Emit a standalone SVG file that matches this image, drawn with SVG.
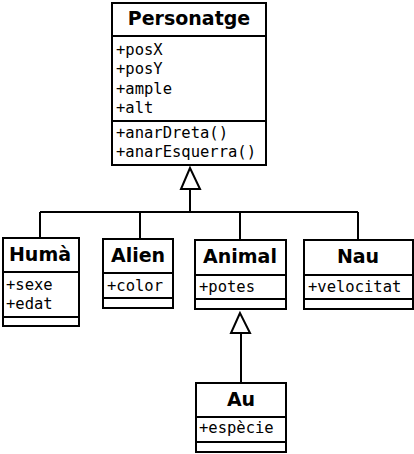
<svg xmlns="http://www.w3.org/2000/svg" width="414" height="454" viewBox="0 0 414 454">
<style>
.box{fill:#fff;stroke:#000;stroke-width:2}
.div{stroke:#000;stroke-width:2}
.h{font-family:"DejaVu Sans",sans-serif;font-weight:bold;font-size:19px;text-anchor:middle;fill:#000}
.a{font-family:"DejaVu Sans Mono",monospace;font-size:15.5px;fill:#000}
.c{fill:none;stroke:#000;stroke-width:2}
.tri{fill:#fff;stroke:#000;stroke-width:2}
</style>
<rect width="414" height="454" fill="#fff"/>
<g id="connectors">
<path class="c" d="M190,189 V212 M40,212 H358 M40,212 V238 M140,212 V239 M240,212 V240 M358,212 V240"/>
<polygon class="tri" points="190,168 181,189 200,189"/>
<path class="c" d="M241,333 V383"/>
<polygon class="tri" points="240,313 231,333 250,333"/>
</g>
<g id="Personatge">
<rect class="box" x="112" y="3" width="154" height="162"/>
<line class="div" x1="112" y1="36" x2="266" y2="36"/>
<line class="div" x1="112" y1="121" x2="266" y2="121"/>
<text class="h" x="189" y="25">Personatge</text>
<text class="a" x="116" y="55">+posX</text>
<text class="a" x="116" y="74">+posY</text>
<text class="a" x="116" y="94">+ample</text>
<text class="a" x="116" y="113">+alt</text>
<text class="a" x="116" y="138">+anarDreta()</text>
<text class="a" x="116" y="157">+anarEsquerra()</text>
</g>
<g id="Huma">
<rect class="box" x="3" y="238" width="76" height="88"/>
<line class="div" x1="3" y1="272" x2="79" y2="272"/>
<line class="div" x1="3" y1="317" x2="79" y2="317"/>
<text class="h" x="40" y="261">Humà</text>
<text class="a" x="6" y="290">+sexe</text>
<text class="a" x="6" y="309">+edat</text>
</g>
<g id="Alien">
<rect class="box" x="103" y="239" width="70" height="69"/>
<line class="div" x1="103" y1="273" x2="173" y2="273"/>
<line class="div" x1="103" y1="298" x2="173" y2="298"/>
<text class="h" x="138" y="262">Alien</text>
<text class="a" x="107" y="291">+color</text>
</g>
<g id="Animal">
<rect class="box" x="195" y="240" width="91" height="69"/>
<line class="div" x1="195" y1="275" x2="286" y2="275"/>
<line class="div" x1="195" y1="299" x2="286" y2="299"/>
<text class="h" x="240" y="263">Animal</text>
<text class="a" x="199" y="292">+potes</text>
</g>
<g id="Nau">
<rect class="box" x="304" y="240" width="109" height="69"/>
<line class="div" x1="304" y1="275" x2="413" y2="275"/>
<line class="div" x1="304" y1="299" x2="413" y2="299"/>
<text class="h" x="358" y="263">Nau</text>
<text class="a" x="308" y="292">+velocitat</text>
</g>
<g id="Au">
<rect class="box" x="196" y="383" width="90" height="69"/>
<line class="div" x1="196" y1="417" x2="286" y2="417"/>
<line class="div" x1="196" y1="442" x2="286" y2="442"/>
<text class="h" x="241" y="406">Au</text>
<text class="a" x="199" y="433">+espècie</text>
</g>
</svg>
